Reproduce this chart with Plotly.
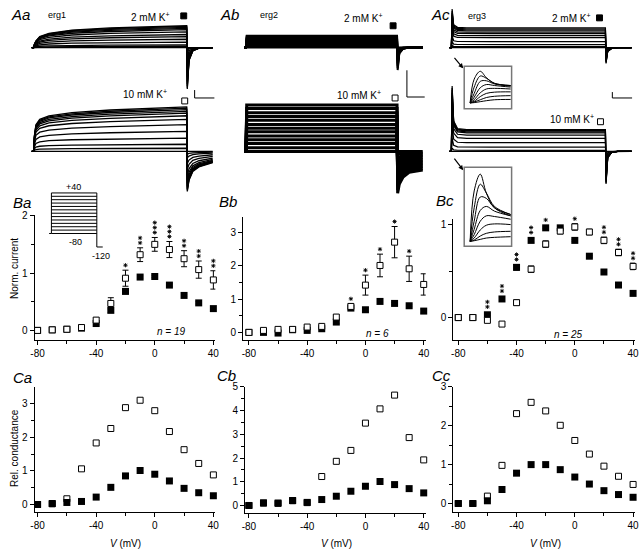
import plotly.graph_objects as go

W, H = 643, 549
FONT = "Liberation Sans, Arial, sans-serif"

# ---- voltage steps (mV) ----
V = [-80, -70, -60, -50, -40, -30, -20, -10, 0, 10, 20, 30, 40]
V_TICKS = [-80, -40, 0, 40]
V_TEXT = ["-80", "-40", "0", "40"]

# ---- B row: normalised current (2 mM = filled, 10 mM = open) ----
ba_2k = [0.0, 0.01, 0.02, 0.04, 0.12, 0.35, 0.68, 0.93, 0.94, 0.79, 0.61, 0.48, 0.38]
ba_2k_err = [0, 0, 0, 0.01, 0.02, 0.04, 0.04, 0.02, 0.02, 0.02, 0.02, 0.02, 0.02]
ba_10k = [0.0, 0.01, 0.02, 0.05, 0.18, 0.47, 0.91, 1.32, 1.50, 1.41, 1.25, 1.06, 0.88]
ba_10k_err = [0.01, 0.01, 0.01, 0.02, 0.04, 0.10, 0.14, 0.12, 0.12, 0.14, 0.14, 0.15, 0.16]
ba_stars = [0, 0, 0, 0, 0, 0, 1, 2, 3, 3, 2, 2, 2]

bb_2k = [0.0, 0.0, -0.02, 0.08, 0.06, 0.11, 0.31, 0.73, 0.68, 0.93, 0.87, 0.80, 0.64]
bb_2k_err = [0, 0, 0.02, 0.02, 0.02, 0.03, 0.05, 0.06, 0.06, 0.03, 0.03, 0.03, 0.06]
bb_10k = [0.0, 0.06, 0.09, 0.09, 0.16, 0.18, 0.46, 0.78, 1.42, 2.01, 2.71, 1.91, 1.44]
bb_10k_err = [0.01, 0.02, 0.02, 0.02, 0.03, 0.04, 0.06, 0.08, 0.30, 0.34, 0.47, 0.38, 0.32]
bb_stars = [0, 0, 0, 0, 0, 0, 0, 1, 1, 1, 1, 1, 0]

bc_2k = [0.0, 0.0, 0.03, 0.20, 0.54, 0.83, 0.965, 0.965, 0.83, 0.66, 0.49, 0.35, 0.26]
bc_2k_err = [0, 0, 0.01, 0.02, 0.03, 0.02, 0.01, 0.01, 0.01, 0.01, 0.01, 0.01, 0.01]
bc_10k = [0.0, 0.0, -0.03, -0.07, 0.16, 0.52, 0.79, 0.93, 0.975, 0.92, 0.83, 0.70, 0.55]
bc_10k_err = [0.005, 0.005, 0.01, 0.02, 0.03, 0.035, 0.035, 0.03, 0.035, 0.03, 0.035, 0.035, 0.035]
bc_stars = [0, 0, 2, 2, 2, 2, 2, 0, 1, 0, 2, 2, 2]

# ---- C row: relative conductance ----
ca_2k = [0.0, 0.03, 0.06, 0.09, 0.22, 0.51, 0.85, 1.01, 0.90, 0.70, 0.48, 0.35, 0.26]
ca_10k = [0.0, 0.02, 0.17, 1.06, 1.83, 2.26, 2.88, 3.10, 2.79, 2.17, 1.63, 1.22, 0.88]
cb_2k = [0.0, 0.11, 0.10, 0.21, 0.13, 0.25, 0.39, 0.60, 0.81, 1.01, 0.88, 0.71, 0.53]
cb_10k = [0.0, 0.10, 0.09, 0.20, 0.12, 1.22, 1.86, 2.32, 3.47, 4.07, 4.65, 2.86, 1.92]
cc_2k = [0.0, 0.0, 0.07, 0.36, 0.78, 1.0, 1.0, 0.87, 0.68, 0.50, 0.33, 0.23, 0.16]
cc_10k = [0.0, 0.0, 0.19, 0.98, 2.31, 2.60, 2.38, 2.01, 1.62, 1.27, 0.96, 0.70, 0.49]

# ---- A row: current traces (time in ms, current normalised to largest trace) ----
t_step = [0, 5, 15, 40, 100, 250, 500, 1000]
t_tail = [1000, 1004, 1015, 1040, 1080, 1170]

aa2_levels = [1.0, 0.97, 0.93, 0.88, 0.82, 0.72, 0.6, 0.5, 0.38, 0.25, 0.12, 0.05, 0.0]
aa2_rise = [0, 0.15, 0.3, 0.5, 0.65, 0.8, 0.9, 1.0]
aa2_tail = [1.0, -1.9, -0.6, -0.15, -0.03, 0.0]
aa10_levels = [1.0, 0.97, 0.94, 0.9, 0.86, 0.8, 0.72, 0.6, 0.45, 0.3, 0.16, 0.07, 0.0]
aa10_rise = [0, 0.35, 0.6, 0.72, 0.8, 0.87, 0.93, 1.0]
aa10_tail = [1.0, -0.9, -0.65, -0.45, -0.35, -0.25]

ab_levels = [1.0, 0.92, 0.83, 0.75, 0.67, 0.58, 0.5, 0.42, 0.33, 0.25, 0.17, 0.08, 0.0]
ab2_rise = [0, 1.0, 1.0, 1.0, 1.0, 1.0, 1.0, 1.0]
ab2_tail = [1.0, -1.9, -0.5, -0.1, 0.0, 0.0]
ab10_rise = [0, 1.0, 1.0, 1.0, 1.0, 1.0, 1.0, 1.0]
ab10_tail = [1.0, -0.9, -0.7, -0.55, -0.45, -0.4]

ac2_levels = [1.0, 0.95, 0.9, 0.85, 0.78, 0.7, 0.6, 0.5, 0.3, 0.15, 0.05, 0.0]
ac2_rise = [0, 1.95, 1.15, 1.02, 1.0, 1.0, 1.0, 1.0]
ac2_tail = [1.0, -0.8, -0.2, -0.05, 0.0, 0.0]
ac10_levels = [1.0, 0.97, 0.94, 0.9, 0.85, 0.75, 0.6, 0.4, 0.2, 0.05, 0.0]
ac10_rise = [0, 3.0, 1.4, 1.05, 1.0, 1.0, 1.0, 1.0]
ac10_tail = [1.0, -1.5, -0.3, -0.05, 0.0, 0.0]

# erg3 onset insets (time as fraction of inset width)
inset_t = [0, 0.1, 0.25, 0.4, 0.6, 1.0]
inset_up = [
    [0, 0.75, 1.0, 0.8, 0.62, 0.55],
    [0, 0.5, 0.85, 0.78, 0.62, 0.55],
    [0, 0.3, 0.68, 0.7, 0.6, 0.53],
    [0, 0.18, 0.48, 0.58, 0.55, 0.5],
    [0, 0.1, 0.32, 0.44, 0.46, 0.44],
    [0, 0.05, 0.2, 0.3, 0.34, 0.35],
    [0, 0.03, 0.1, 0.17, 0.21, 0.23],
    [0, 0.01, 0.04, 0.07, 0.1, 0.11],
]
inset_low = [
    [0, 0.75, 1.0, 0.72, 0.5, 0.38],
    [0, 0.5, 0.85, 0.72, 0.52, 0.4],
    [0, 0.3, 0.66, 0.64, 0.5, 0.4],
    [0, 0.18, 0.46, 0.52, 0.45, 0.38],
    [0, 0.1, 0.3, 0.38, 0.37, 0.33],
    [0, 0.05, 0.17, 0.24, 0.26, 0.25],
    [0, 0.02, 0.08, 0.12, 0.14, 0.15],
    [0, 0.01, 0.03, 0.05, 0.06, 0.07],
]

# voltage protocol
prot_levels = [40, 30, 20, 10, 0, -10, -20, -30, -40, -50, -60, -70, -80]
prot_hold = -80
prot_tail = -120


def xdom(pa, va, pb, vb, lo, hi):
    s = (vb - va) / (pb - pa)
    return dict(domain=[lo / W, hi / W], range=[va + (lo - pa) * s, va + (hi - pa) * s])


def ydom(pa, va, pb, vb, top, bot):
    s = (vb - va) / (pb - pa)
    return dict(domain=[1 - bot / H, 1 - top / H], range=[va + (bot - pa) * s, va + (top - pa) * s])


def names(n):
    s = "" if n == 1 else str(n)
    return "x" + s, "y" + s, "xaxis" + s, "yaxis" + s


fig = go.Figure()
layout = {}
hidden = dict(visible=False, fixedrange=True, showgrid=False, zeroline=False)


def hidden_panel(n, xd, yd):
    xa, ya, xk, yk = names(n)
    layout[xk] = dict(hidden, anchor=ya, **xd)
    layout[yk] = dict(hidden, anchor=xa, **yd)
    return xa, ya


def family(n, levels, rise, tail, width=1.0):
    xa, ya, _, _ = names(n)
    xs, ys = [], []
    for lev in levels:
        xs += [-12] + t_step + t_tail[1:] + [None]
        ys += [0] + [lev * r for r in rise] + [lev * f for f in tail[1:]] + [None]
    fig.add_trace(go.Scatter(x=xs, y=ys, mode="lines", line=dict(color="black", width=width),
                             xaxis=xa, yaxis=ya, showlegend=False, hoverinfo="skip"))


# trace panels
xa_aa = xdom(30, 0, 185, 1000, 26, 215)
xa_ab = xdom(245, 0, 398, 1000, 240, 428)
xa_ac = xdom(453, 0, 609, 1000, 448, 641)
hidden_panel(1, xa_aa, ydom(42, 0, 20, 1, 0, 91))
hidden_panel(2, xa_aa, ydom(147, 0, 102, 1, 92, 196))
hidden_panel(3, xa_ab, ydom(42, 0, 30, 1, 0, 91))
hidden_panel(4, xa_ab, ydom(147, 0, 100, 1, 92, 196))
hidden_panel(5, xa_ac, ydom(42, 0, 22, 1, 0, 76))
hidden_panel(6, xa_ac, ydom(147, 0, 125, 1, 77, 196))
hidden_panel(7, xdom(472, 0, 513, 1, 466, 514), ydom(98, 0, 66, 1, 61, 104))
hidden_panel(8, xdom(472, 0, 513, 1, 466, 514), ydom(238, 0, 170, 1, 163, 243))
hidden_panel(9, xdom(48, 0, 94, 1, 42, 104), ydom(189, 40, 230, -80, 184, 250))

family(1, aa2_levels, aa2_rise, aa2_tail, 1.3)
family(2, aa10_levels, aa10_rise, aa10_tail, 1.3)
family(3, ab_levels, ab2_rise, ab2_tail, 2)
family(4, ab_levels, ab10_rise, ab10_tail, 3)
family(5, ac2_levels, ac2_rise, ac2_tail, 1.2)
family(6, ac10_levels, ac10_rise, ac10_tail, 1.2)

for n, rows in ((7, inset_up), (8, inset_low)):
    xa, ya, _, _ = names(n)
    xs, ys = [], []
    for r in rows:
        xs += inset_t + [None]
        ys += r + [None]
    fig.add_trace(go.Scatter(x=xs, y=ys, mode="lines", line=dict(color="black", width=1, shape="spline"),
                             xaxis=xa, yaxis=ya, showlegend=False, hoverinfo="skip"))

# protocol
px_, py_ = [], []
for lv in prot_levels:
    px_ += [0, 1, None]
    py_ += [lv, lv, None]
px_ += [-0.05, 0, 0, None, 1, 1, 1.13]
py_ += [prot_hold, prot_hold, prot_levels[0], None, prot_levels[0], prot_tail, prot_tail]
fig.add_trace(go.Scatter(x=px_, y=py_, mode="lines", line=dict(color="black", width=1),
                         xaxis="x9", yaxis="y9", showlegend=False, hoverinfo="skip"))

# ---- scatter panels ----
axis_common = dict(showline=True, linecolor="black", linewidth=1, ticks="outside", ticklen=4,
                   tickwidth=1, tickcolor="black", showgrid=False, zeroline=False,
                   tickfont=dict(size=10, color="black", family=FONT), fixedrange=True)


def scatter_panel(n, xd, yd, yticks, yminor, filled, opened, f_err=None, o_err=None, stars=None,
                  open_on_top=True):
    xa, ya, xk, yk = names(n)
    layout[xk] = dict(axis_common, anchor=ya, tickvals=V_TICKS, ticktext=V_TEXT,
                      minor=dict(tickvals=[-60, -20, 20], ticks="outside", ticklen=3, tickcolor="black"),
                      **xd)
    layout[yk] = dict(axis_common, anchor=xa, tickvals=yticks, ticktext=[str(t) for t in yticks],
                      minor=dict(tickvals=yminor, ticks="outside", ticklen=3, tickcolor="black"), **yd)
    ferr = dict(type="data", array=f_err, color="black", thickness=1, width=3) if f_err else None
    oerr = dict(type="data", array=o_err, color="black", thickness=1, width=3) if o_err else None
    tr_f = go.Scatter(x=V, y=filled, mode="markers", error_y=ferr, cliponaxis=False,
                      marker=dict(symbol="square", size=7, color="black", line=dict(width=0)),
                      xaxis=xa, yaxis=ya, showlegend=False, hoverinfo="skip")
    tr_o = go.Scatter(x=V, y=opened, mode="markers", error_y=oerr, cliponaxis=False,
                      marker=dict(symbol="square", size=6, color="white", line=dict(width=1, color="black")),
                      xaxis=xa, yaxis=ya, showlegend=False, hoverinfo="skip")
    if open_on_top:
        fig.add_trace(tr_f)
        fig.add_trace(tr_o)
    else:
        fig.add_trace(tr_o)
        fig.add_trace(tr_f)
    if stars:
        u = (yd["range"][1] - yd["range"][0]) / ((yd["domain"][1] - yd["domain"][0]) * H)
        sx, sy = [], []
        for v, a, e, b, c in zip(V, opened, o_err, filled, stars):
            base = max(a + e + 5 * u, b + 8 * u)
            for k in range(c):
                sx.append(v)
                sy.append(base + k * 5 * u)
        fig.add_trace(go.Scatter(x=sx, y=sy, mode="markers", cliponaxis=False,
                                 marker=dict(symbol="asterisk-open", size=3.5, color="black",
                                             line=dict(width=0.9, color="black")),
                                 xaxis=xa, yaxis=ya, showlegend=False, hoverinfo="skip"))


scatter_panel(10, xdom(34, -80, 212, 40, 31, 214), ydom(328, 0, 270, 1, 211, 338),
              [0, 1, 2], [0.5, 1.5], ba_2k, ba_10k, ba_2k_err, ba_10k_err, ba_stars)
scatter_panel(11, xdom(248, -80, 425, 40, 242, 427), ydom(330, 0, 229, 3, 213, 338),
              [0, 1, 2, 3], [0.5, 1.5, 2.5], bb_2k, bb_10k, bb_2k_err, bb_10k_err, bb_stars)
scatter_panel(12, xdom(460, -80, 637, 40, 455, 639), ydom(315, 0, 221, 1, 215, 338),
              [0, 1], [0.5], bc_2k, bc_10k, bc_2k_err, bc_10k_err, bc_stars)
scatter_panel(13, xdom(34, -80, 212, 40, 31, 214), ydom(504, 0, 402, 3, 385, 512),
              [0, 1, 2, 3], [0.5, 1.5, 2.5], ca_2k, ca_10k, open_on_top=False)
scatter_panel(14, xdom(248, -80, 425, 40, 244, 427), ydom(505, 0, 385, 5, 385, 513),
              [0, 1, 2, 3, 4, 5], [0.5, 1.5, 2.5, 3.5, 4.5], cb_2k, cb_10k, open_on_top=False)
scatter_panel(15, xdom(460, -80, 637, 40, 455, 639), ydom(503, 0, 385, 3, 385, 512),
              [0, 1, 2, 3], [0.5, 1.5, 2.5], cc_2k, cc_10k, open_on_top=False)

# ---- text ----
annotations = []


def ann(x, y, text, size=10, xanchor="center", angle=0):
    annotations.append(dict(x=x / W, y=1 - y / H, xref="paper", yref="paper", text=text,
                            showarrow=False, xanchor=xanchor, yanchor="middle", textangle=angle,
                            font=dict(size=size, color="black", family=FONT)))


for lbl, x, y in (("Aa", 5, 9), ("Ab", 217, 9), ("Ac", 430, 9), ("Ba", 7, 199), ("Bb", 216, 198),
                  ("Bc", 435, 197), ("Ca", 7, 376), ("Cb", 214, 374), ("Cc", 431, 374)):
    ann(x, y, "<i>%s</i>" % lbl, 15, "left")

ann(43, 9, "erg1", 9, "left")
ann(257, 9, "erg2", 9, "left")
ann(468, 10, "erg3", 9, "left")
k2 = "2 mM K<sup>+</sup>"
k10 = "10 mM K<sup>+</sup>"
ann(148, 11, k2, 10)
ann(143, 89, k10, 10)
ann(364, 12, k2, 10)
ann(359, 90, k10, 10)
ann(575, 12, k2, 10)
ann(575, 114, k10, 10)

ann(70, 183, "+40", 9)
ann(72, 239, "-80", 9)
ann(98, 253, "-120", 9)

ann(10, 265, "Norm. current", 10, angle=-90)
ann(10, 447, "Rel. conductance", 10, angle=-90)
ann(170, 329, "<i>n = 19</i>", 10)
ann(378, 331, "<i>n = 6</i>", 10)
ann(572, 332, "<i>n = 25</i>", 10)
for x in (123, 337, 548):
    ann(x, 543, "<i>V</i> (mV)", 10)

# arrows to the insets
for hx, hy, tx, ty in ((465, 63, 455, 51), (465, 166, 455, 153)):
    annotations.append(dict(x=hx / W, y=1 - hy / H, ax=tx - hx, ay=ty - hy, xref="paper", yref="paper",
                            axref="pixel", ayref="pixel", showarrow=True, arrowhead=2, arrowsize=0.8,
                            arrowwidth=1.2, arrowcolor="black", text=""))

# ---- shapes: inset frames, scale bars, legend keys ----
shapes = []
for n in (7, 8):
    shapes.append(dict(type="rect", xref="x%d domain" % n, yref="y%d domain" % n, x0=0, x1=1, y0=0, y1=1,
                       line=dict(color="#777777", width=1.5), fillcolor="white", layer="below"))


def pline(pts):
    path = "M " + " L ".join("%.4f,%.4f" % (x / W, 1 - y / H) for x, y in pts)
    shapes.append(dict(type="path", xref="paper", yref="paper", path=path,
                       line=dict(color="black", width=1)))


pline([(193, 85), (193, 93), (213, 93)])
pline([(408, 65), (408, 92), (426, 92)])
pline([(616, 87), (616, 93), (636, 93)])


def key(x, y, filled):
    shapes.append(dict(type="rect", xref="paper", yref="paper", x0=(x - 3) / W, x1=(x + 3) / W,
                       y0=1 - (y + 3) / H, y1=1 - (y - 3) / H,
                       line=dict(color="black", width=1), fillcolor="black" if filled else "white"))


key(182, 10, True)
key(183, 96, False)
key(394, 20, True)
key(396, 93, False)
key(603, 12, True)
key(604, 117, False)

fig.update_layout(width=W, height=H, margin=dict(l=0, r=0, t=0, b=0), paper_bgcolor="white",
                  plot_bgcolor="rgba(0,0,0,0)", font=dict(family=FONT, color="black"),
                  showlegend=False, hovermode=False, annotations=annotations, shapes=shapes, **layout)

# the page's default body margin would shift the whole figure by 8 px
fig.write_html("out.html", config={"displayModeBar": False},
               post_script="document.body.style.margin='0px';")
